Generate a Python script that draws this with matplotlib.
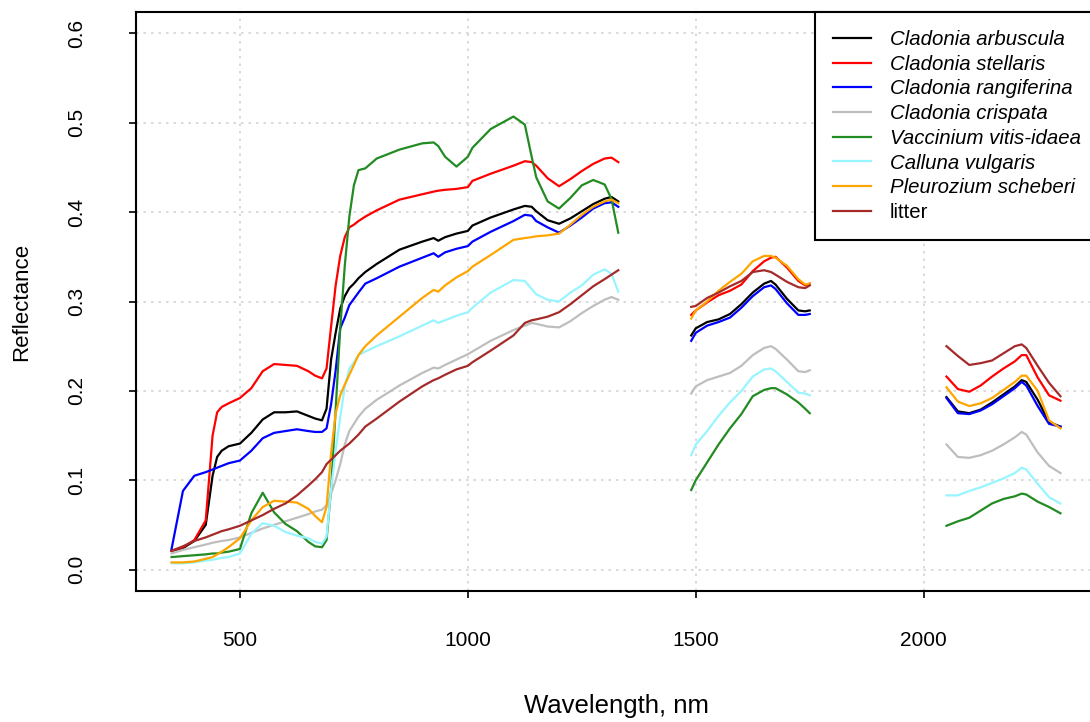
import numpy as np
import matplotlib
matplotlib.use("Agg")
import matplotlib.pyplot as plt

plt.rcParams['font.family'] = ['Liberation Sans', 'DejaVu Sans']

# wavelength grids for the three spectral pieces (water bands removed)
wl_vnir = [350, 375, 400, 425, 440, 450, 460, 475, 500, 525, 550, 575, 600, 625, 650, 665,
           680, 690, 700, 710, 720, 730, 740, 750, 760, 775, 800, 850, 900, 925, 935, 950,
           975, 1000, 1010, 1050, 1100, 1125, 1140, 1150, 1175, 1200, 1225, 1250, 1275, 1300,
           1315, 1330]
wl_swir1 = [1490, 1500, 1525, 1550, 1575, 1600, 1625, 1650, 1665, 1675, 1700, 1725, 1740, 1750]
wl_swir2 = [2050, 2075, 2100, 2125, 2150, 2175, 2200, 2215, 2225, 2250, 2275, 2300]

names = ["Cladonia arbuscula", "Cladonia stellaris", "Cladonia rangiferina", "Cladonia crispata",
         "Vaccinium vitis-idaea", "Calluna vulgaris", "Pleurozium scheberi", "litter"]
colors = ["black", "red", "blue", "#BEBEBE", "#228B22", "#98F5FF", "#FFA500", "#A52A2A"]

arbuscula_vnir = [0.021, 0.024, 0.032, 0.05, 0.105, 0.126, 0.133, 0.138, 0.141, 0.153, 0.168, 0.176,
                  0.176, 0.177, 0.172, 0.169, 0.167, 0.18, 0.235, 0.265, 0.292, 0.306, 0.315, 0.32,
                  0.326, 0.333, 0.342, 0.358, 0.367, 0.371, 0.368, 0.372, 0.376, 0.379, 0.385, 0.394,
                  0.403, 0.407, 0.406, 0.401, 0.391, 0.387, 0.393, 0.401, 0.409, 0.415, 0.417, 0.412]
arbuscula_swir1 = [0.262, 0.27, 0.277, 0.28, 0.286, 0.297, 0.31, 0.32, 0.323, 0.319, 0.303, 0.29, 0.289, 0.29]
arbuscula_swir2 = [0.193, 0.177, 0.175, 0.179, 0.187, 0.196, 0.205, 0.212, 0.21, 0.19, 0.165, 0.16]

stellaris_vnir = [0.021, 0.025, 0.033, 0.055, 0.15, 0.176, 0.182, 0.186, 0.192, 0.203, 0.222, 0.23,
                  0.229, 0.228, 0.222, 0.217, 0.214, 0.225, 0.272, 0.318, 0.351, 0.372, 0.383, 0.386,
                  0.39, 0.395, 0.402, 0.414, 0.42, 0.423, 0.424, 0.425, 0.426, 0.428, 0.435, 0.443,
                  0.452, 0.457, 0.456, 0.452, 0.438, 0.429, 0.437, 0.446, 0.454, 0.46, 0.461, 0.456]
stellaris_swir1 = [0.285, 0.29, 0.299, 0.307, 0.312, 0.319, 0.334, 0.345, 0.349, 0.35, 0.338, 0.323, 0.318, 0.32]
stellaris_swir2 = [0.216, 0.202, 0.199, 0.206, 0.216, 0.225, 0.233, 0.24, 0.24, 0.215, 0.195, 0.189]

rangiferina_vnir = [0.023, 0.088, 0.105, 0.109, 0.112, 0.114, 0.116, 0.119, 0.122, 0.133, 0.147, 0.153,
                    0.155, 0.157, 0.155, 0.154, 0.154, 0.158, 0.185, 0.223, 0.27, 0.282, 0.296, 0.303,
                    0.31, 0.32, 0.326, 0.339, 0.349, 0.354, 0.35, 0.355, 0.359, 0.362, 0.367, 0.378,
                    0.39, 0.397, 0.396, 0.39, 0.383, 0.377, 0.385, 0.394, 0.404, 0.41, 0.411, 0.406]
rangiferina_swir1 = [0.256, 0.265, 0.273, 0.277, 0.282, 0.293, 0.306, 0.316, 0.318, 0.314, 0.298, 0.285, 0.285, 0.286]
rangiferina_swir2 = [0.192, 0.175, 0.174, 0.178, 0.185, 0.194, 0.203, 0.21, 0.206, 0.183, 0.163, 0.16]

crispata_vnir = [0.018, 0.022, 0.025, 0.028, 0.03, 0.031, 0.032, 0.033, 0.036, 0.041, 0.046, 0.05,
                 0.054, 0.058, 0.062, 0.065, 0.067, 0.072, 0.085, 0.1, 0.118, 0.14, 0.155, 0.163,
                 0.171, 0.18, 0.19, 0.206, 0.22, 0.226, 0.225, 0.229, 0.235, 0.241, 0.244, 0.256,
                 0.268, 0.273, 0.276, 0.275, 0.272, 0.271, 0.278, 0.287, 0.295, 0.302, 0.305, 0.302]
crispata_swir1 = [0.197, 0.205, 0.212, 0.216, 0.22, 0.228, 0.24, 0.248, 0.25, 0.247, 0.235, 0.222, 0.221, 0.223]
crispata_swir2 = [0.14, 0.126, 0.125, 0.128, 0.133, 0.14, 0.148, 0.154, 0.151, 0.131, 0.116, 0.108]

vaccinium_vnir = [0.014, 0.015, 0.016, 0.017, 0.018, 0.018, 0.019, 0.02, 0.023, 0.063, 0.086, 0.064,
                  0.051, 0.043, 0.031, 0.026, 0.025, 0.033, 0.09, 0.179, 0.27, 0.34, 0.395, 0.43,
                  0.447, 0.449, 0.46, 0.47, 0.477, 0.478, 0.474, 0.462, 0.451, 0.462, 0.472, 0.493,
                  0.507, 0.498, 0.462, 0.439, 0.412, 0.404, 0.416, 0.43, 0.436, 0.431, 0.415, 0.377]
vaccinium_swir1 = [0.089, 0.1, 0.12, 0.14, 0.158, 0.174, 0.194, 0.201, 0.203, 0.203, 0.196, 0.187, 0.18, 0.175]
vaccinium_swir2 = [0.049, 0.054, 0.058, 0.066, 0.074, 0.079, 0.082, 0.085, 0.084, 0.076, 0.07, 0.063]

calluna_vnir = [0.007, 0.007, 0.008, 0.01, 0.011, 0.012, 0.013, 0.014, 0.018, 0.04, 0.052, 0.049,
                0.042, 0.038, 0.035, 0.031, 0.029, 0.037, 0.09, 0.133, 0.17, 0.205, 0.225, 0.232,
                0.24, 0.244, 0.25, 0.261, 0.273, 0.279, 0.276, 0.279, 0.284, 0.288, 0.293, 0.31,
                0.324, 0.323, 0.314, 0.308, 0.302, 0.3, 0.31, 0.318, 0.33, 0.336, 0.331, 0.311]
calluna_swir1 = [0.128, 0.14, 0.155, 0.172, 0.187, 0.2, 0.216, 0.224, 0.225, 0.222, 0.21, 0.198, 0.197, 0.195]
calluna_swir2 = [0.083, 0.083, 0.088, 0.092, 0.097, 0.102, 0.108, 0.114, 0.112, 0.096, 0.081, 0.074]

pleurozium_vnir = [0.008, 0.008, 0.009, 0.012, 0.014, 0.017, 0.02, 0.025, 0.035, 0.055, 0.07, 0.077,
                   0.076, 0.075, 0.068, 0.06, 0.053, 0.07, 0.13, 0.175, 0.195, 0.207, 0.218, 0.229,
                   0.24, 0.25, 0.262, 0.283, 0.304, 0.313, 0.311, 0.318, 0.327, 0.334, 0.339, 0.352,
                   0.369, 0.371, 0.372, 0.373, 0.374, 0.376, 0.386, 0.397, 0.406, 0.412, 0.414, 0.41]
pleurozium_swir1 = [0.281, 0.29, 0.3, 0.312, 0.322, 0.331, 0.345, 0.351, 0.351, 0.349, 0.34, 0.325, 0.319, 0.32]
pleurozium_swir2 = [0.204, 0.188, 0.183, 0.186, 0.192, 0.201, 0.21, 0.217, 0.217, 0.2, 0.167, 0.158]

litter_vnir = [0.021, 0.026, 0.032, 0.036, 0.039, 0.041, 0.043, 0.045, 0.049, 0.055, 0.061, 0.068,
               0.074, 0.083, 0.094, 0.101, 0.109, 0.118, 0.123, 0.128, 0.133, 0.137, 0.141, 0.146,
               0.151, 0.16, 0.169, 0.188, 0.205, 0.212, 0.214, 0.218, 0.224, 0.228, 0.232, 0.245,
               0.262, 0.276, 0.279, 0.28, 0.283, 0.288, 0.297, 0.307, 0.317, 0.325, 0.33, 0.335]
litter_swir1 = [0.294, 0.295, 0.304, 0.31, 0.317, 0.323, 0.333, 0.335, 0.333, 0.33, 0.322, 0.316, 0.315, 0.318]
litter_swir2 = [0.25, 0.239, 0.229, 0.231, 0.234, 0.242, 0.25, 0.252, 0.248, 0.228, 0.209, 0.194]

spectra = [
    (arbuscula_vnir, arbuscula_swir1, arbuscula_swir2),
    (stellaris_vnir, stellaris_swir1, stellaris_swir2),
    (rangiferina_vnir, rangiferina_swir1, rangiferina_swir2),
    (crispata_vnir, crispata_swir1, crispata_swir2),
    (vaccinium_vnir, vaccinium_swir1, vaccinium_swir2),
    (calluna_vnir, calluna_swir1, calluna_swir2),
    (pleurozium_vnir, pleurozium_swir1, pleurozium_swir2),
    (litter_vnir, litter_swir1, litter_swir2),
]

fig = plt.figure(figsize=(10.9, 7.22), dpi=100)
ax = fig.add_axes([136/1090, 131/722, 960/1090, 579/722])

for name, col, (s1, s2, s3) in zip(names, colors, spectra):
    ax.plot(wl_vnir, s1, color=col, lw=1.6, label=name)
    ax.plot(wl_swir1, s2, color=col, lw=1.6)
    ax.plot(wl_swir2, s3, color=col, lw=1.6)

ax.set_xlim(272, 2378)
ax.set_ylim(-0.024, 0.624)
ax.set_xticks([500, 1000, 1500, 2000])
ax.set_yticks([0.0, 0.1, 0.2, 0.3, 0.4, 0.5, 0.6])
ax.set_yticklabels(["0.0", "0.1", "0.2", "0.3", "0.4", "0.5", "0.6"])
ax.grid(True, color="#D3D3D3", linestyle=(0, (1.5, 3)), linewidth=1.2)
ax.set_axisbelow(True)

for s in ax.spines.values():
    s.set_linewidth(1.5)
ax.tick_params(axis='both', direction='out', length=5, width=1.2, labelsize=15)
ax.tick_params(axis='x', pad=24)
ax.tick_params(axis='y', pad=31, labelrotation=90)
for lab in ax.get_yticklabels():
    lab.set_va('center')

ax.set_xlabel("Wavelength, nm", fontsize=18.5)
ax.set_ylabel("Reflectance", fontsize=16)
ax.xaxis.set_label_coords(0.5, -0.198)
ax.xaxis.label.set_va('center')
ax.yaxis.set_label_coords(-0.119, 0.5)
ax.yaxis.label.set_va('center')

# legend sticks out past the right edge, as in the original
leg = ax.legend(loc='upper right', bbox_to_anchor=(1.0 + 3/960, 1.0), borderaxespad=0,
                fontsize=14.7, handlelength=1.85, handletextpad=0.95, borderpad=0.88,
                labelspacing=0.28, fancybox=False, framealpha=1, edgecolor='black')
leg.get_frame().set_linewidth(1.5)
for t in leg.get_texts()[:7]:
    t.set_style('italic')

plt.savefig("out.png", dpi=100)
